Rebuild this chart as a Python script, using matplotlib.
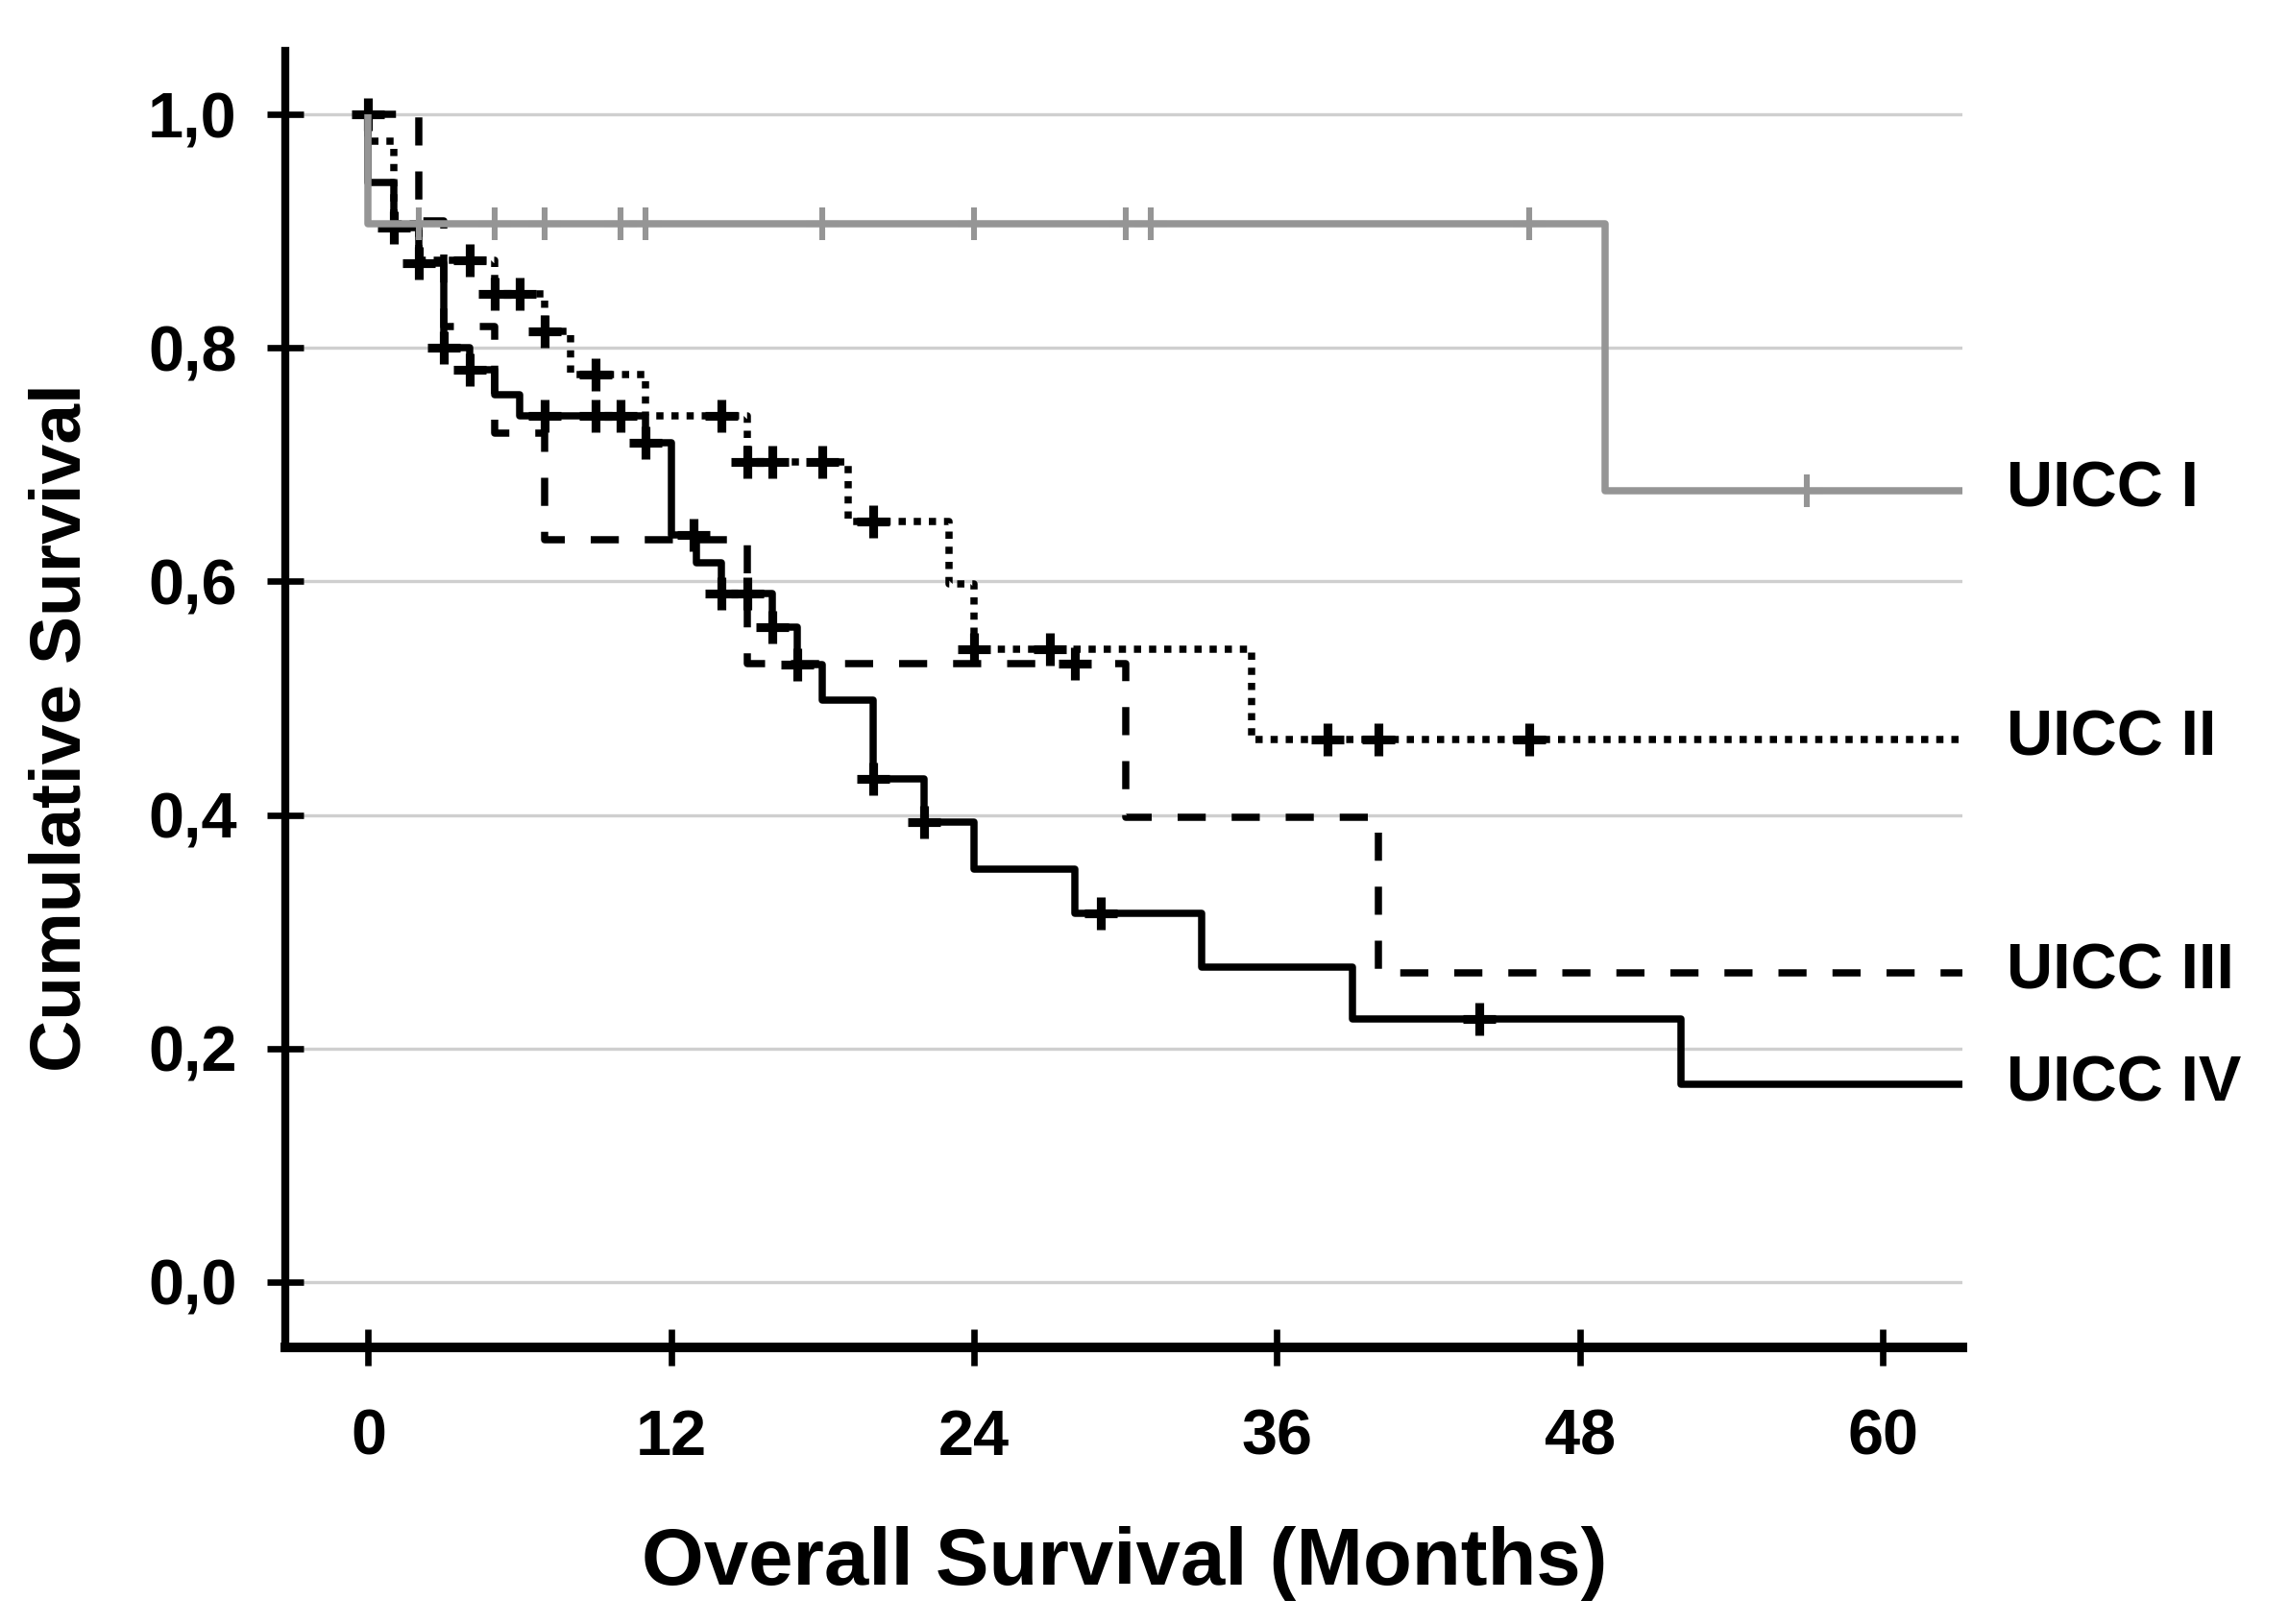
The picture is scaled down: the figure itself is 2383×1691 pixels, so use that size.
import matplotlib.pyplot as plt
import numpy as np

plt.rcParams['font.family'] = ['Liberation Sans', 'DejaVu Sans']
plt.rcParams['font.weight'] = 'bold'

# Kaplan-Meier curves: step times (months) and survival after each step
uicc1_t = [0, 49]
uicc1_s = [0.906, 0.678]
uicc1_cens = [2, 5, 7, 10, 11, 18, 24, 30, 31, 46, 57]

uicc2_t = [0, 1, 2, 5, 7, 8, 11, 15, 19, 23, 24, 35]
uicc2_s = [0.977, 0.906, 0.875, 0.846, 0.814, 0.777, 0.742, 0.702, 0.651, 0.598, 0.542, 0.465]
uicc2_cens = [4, 5, 6, 7, 9, 14, 15, 16, 18, 20, 24, 27, 38, 40, 46]

uicc3_t = [2, 3, 5, 7, 15, 30, 40]
uicc3_s = [0.909, 0.818, 0.727, 0.636, 0.530, 0.398, 0.265]
uicc3_cens = [0, 28]

uicc4_t = [0, 1, 2, 3, 4, 5, 6, 11, 12, 13, 14, 16, 17, 18, 20, 22, 24, 28, 33, 39, 52]
uicc4_s = [0.942, 0.903, 0.873, 0.800, 0.781, 0.760, 0.742, 0.719, 0.640, 0.616, 0.590,
           0.561, 0.529, 0.498, 0.431, 0.394, 0.354, 0.316, 0.270, 0.225, 0.169]
uicc4_cens = [1, 2, 3, 4, 7, 9, 10, 11, 12.9, 14, 15, 16, 17, 20, 22, 29, 44]

labels = ['UICC I', 'UICC II', 'UICC III', 'UICC IV']
x_ticks = [0, 12, 24, 36, 48, 60]
y_ticks = [0.0, 0.2, 0.4, 0.6, 0.8, 1.0]
y_ticklabels = ['0,0', '0,2', '0,4', '0,6', '0,8', '1,0']

x_min, x_max = -3.3, 63.15
y_min, y_max = -0.056, 1.0545


def surv_at(times, surv, t):
    val = 1.0
    for ti, si in zip(times, surv):
        if ti <= t:
            val = si
    return val


fig = plt.figure(figsize=(11.915, 8.455), dpi=200)
ax = fig.add_axes([0.1245, 0.1703, 0.7328, 0.7984])

curves = [
    (uicc1_t, uicc1_s, uicc1_cens, '#959595', '-', 14),
    (uicc2_t, uicc2_s, uicc2_cens, 'black', (0, (1.0, 1.1)), 5),
    (uicc3_t, uicc3_s, uicc3_cens, 'black', (0, (3.9, 3.6)), 4),
    (uicc4_t, uicc4_s, uicc4_cens, 'black', '-', 6),
]

for (t, s, cens, col, ls, z), lab in zip(curves, labels):
    xs = [0] + t + [x_max]
    ys = [1.0] + s + [s[-1]]
    ax.step(xs, ys, where='post', color=col, linestyle=ls, lw=2.7,
            solid_capstyle='butt', dash_capstyle='butt', zorder=z)
    cy = [surv_at(t, s, c) for c in cens]
    if col == 'black':
        ax.plot(cens, cy, linestyle='none', marker='+', ms=12, mew=3.3,
                color=col, zorder=z)
    else:
        ax.plot(cens, cy, linestyle='none', marker='+', ms=12, mew=2.2,
                color=col, zorder=z)
    ax.text(64.9, s[-1], lab, fontsize=24, fontweight='bold', ha='left',
            va='center', clip_on=False)

ax.set_xlim(x_min, x_max)
ax.set_ylim(y_min, y_max)
ax.set_xticks(x_ticks)
ax.set_yticks(y_ticks)
ax.set_yticklabels(y_ticklabels)
ax.grid(axis='y', color='#cfcfcf', lw=1.2, zorder=0)
ax.set_axisbelow(True)

for side in ['top', 'right']:
    ax.spines[side].set_visible(False)
ax.spines['left'].set_linewidth(3.0)
ax.spines['bottom'].set_linewidth(3.6)

ax.tick_params(axis='both', direction='inout', length=14, width=2.4,
               labelsize=24)
ax.tick_params(axis='x', pad=16)
ax.tick_params(axis='y', pad=11)
for lbl in ax.get_xticklabels() + ax.get_yticklabels():
    lbl.set_fontweight('bold')

fig.text(0.4914, 0.037, 'Overall Survival (Months)', fontsize=30,
         fontweight='bold', ha='center', va='center')
fig.text(0.027, 0.552, 'Cumulative Survival', fontsize=27,
         fontweight='bold', ha='center', va='center', rotation=90)

fig.savefig('out.png', dpi=200)
